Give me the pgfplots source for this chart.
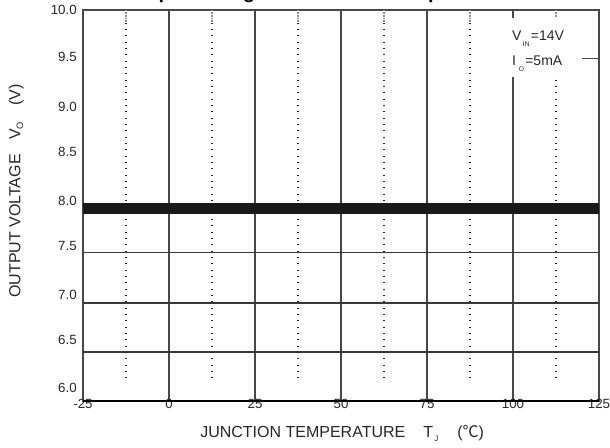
\documentclass[border=0pt]{standalone}
\usepackage{pgfplots}
\pgfplotsset{compat=1.18}
\usepackage{fontspec}
\setmainfont{Liberation Sans}
\newfontfamily\cjk{Noto Sans CJK SC}

\begin{document}
\begin{tikzpicture}
\begin{axis}[
    at={(62.25pt,34.5pt)}, anchor=south west,
    width=387pt, height=293.25pt,
    scale only axis,
    xmin=-25, xmax=125,
    ymin=6, ymax=10,
    xtick={-25,0,25,50,75,100,125},
    xticklabels={-25,0,25,50,75,100,125},
    % labels sit a little above their grid lines in the scan
    ytick={6.133,6.624,7.084,7.586,8.046,8.547,9.008,9.519,10},
    yticklabels={6.0,6.5,7.0,7.5,8.0,8.5,9.0,9.5,10.0},
    major tick length=0pt,
    xmajorgrids=true,
    major grid style={draw=black!72, line width=0.8pt},
    axis line style={draw=black!72, line width=0.8pt},
    tick label style={font=\fontsize{10}{12}\selectfont, text=black!85},
    xticklabel style={anchor=center, yshift=-2.3pt},
    yticklabel style={anchor=east, inner sep=0pt, xshift=-4.5pt},
  ]
  % horizontal grid lines that survive in the scan
  \pgfplotsinvokeforeach{6.5,7,7.52,8}{
    \draw[black!78, line width=1.3pt] (axis cs:-25,#1) -- (axis cs:125,#1);
  }
  % dotted minor verticals
  \pgfplotsinvokeforeach{-12.5,12.5,37.5,62.5,87.5,112.5}{
    \draw[black!85, line width=2pt, dash pattern=on 0.75pt off 4pt]
      (axis cs:#1,10) -- (axis cs:#1,6.2);
    \draw[black!45, line width=2pt, dash pattern=on 0.6pt off 0.6pt]
      (axis cs:#1,10) -- (axis cs:#1,9.87);
  }

  \addplot[draw=black!90, line width=8.25pt] coordinates {
    (-25,7.97) (0,7.97) (25,7.97) (50,7.97) (75,7.97) (100,7.97) (125,7.97)
  };

  % legend block (blanks the grid behind it)
  \fill[white] (axis cs:97.7,9.315) rectangle (axis cs:119.8,9.918);
  \draw[black!72, line width=0.9pt] (axis cs:120,9.5) -- (axis cs:125,9.5);
  \node[anchor=base west, inner sep=0pt, font=\fontsize{10.5}{12}\selectfont, text=black!85]
    at (axis cs:99.7,9.693) {V\hspace{1pt}\raisebox{-5pt}{\fontsize{5}{6}\selectfont IN}\hspace{1pt}=14V};
  \node[anchor=base west, inner sep=0pt, font=\fontsize{10.5}{12}\selectfont, text=black!85]
    at (axis cs:99.7,9.437) {I\hspace{2pt}\raisebox{-5pt}{\fontsize{5}{6}\selectfont O}\hspace{1pt}=5mA};

  \draw[black, line width=1.6pt] (rel axis cs:0,0) -- (rel axis cs:1,0);
\end{axis}

% title, mostly cut off by the page edge as in the scan
\node[anchor=base west, inner sep=0pt, font=\bfseries\fontsize{15}{18}\selectfont]
  at (93pt,336pt) {Output Voltage vs Junction Temperature};

% x axis title
\node[anchor=base west, inner sep=0pt, font=\fontsize{12}{14}\selectfont, text=black!85]
  at (150pt,7.3pt) {JUNCTION TEMPERATURE};
\node[anchor=base west, inner sep=0pt, font=\fontsize{12}{14}\selectfont, text=black!85]
  at (317.25pt,7.3pt) {T\hspace{1pt}\raisebox{-3pt}{\fontsize{6}{6}\selectfont J}};
\node[anchor=base west, inner sep=0pt, font=\fontsize{12}{14}\selectfont, text=black!85]
  at (342.75pt,7.3pt) {({\cjk ℃})};

% y axis title
\node[rotate=90, anchor=base west, inner sep=0pt, font=\fontsize{12}{14}\selectfont, text=black!85]
  at (15.3pt,111.75pt) {OUTPUT VOLTAGE};
\node[rotate=90, anchor=base west, inner sep=0pt, font=\fontsize{12}{14}\selectfont, text=black!85]
  at (15.3pt,230.25pt) {V\raisebox{-2pt}{\fontsize{7}{7}\selectfont O}};
\node[rotate=90, anchor=base west, inner sep=0pt, font=\fontsize{12}{14}\selectfont, text=black!85]
  at (15.3pt,255.75pt) {(V)};

\pgfresetboundingbox
\path[use as bounding box] (0pt,0pt) rectangle (457.5pt,335.25pt);
\end{tikzpicture}
\end{document}
